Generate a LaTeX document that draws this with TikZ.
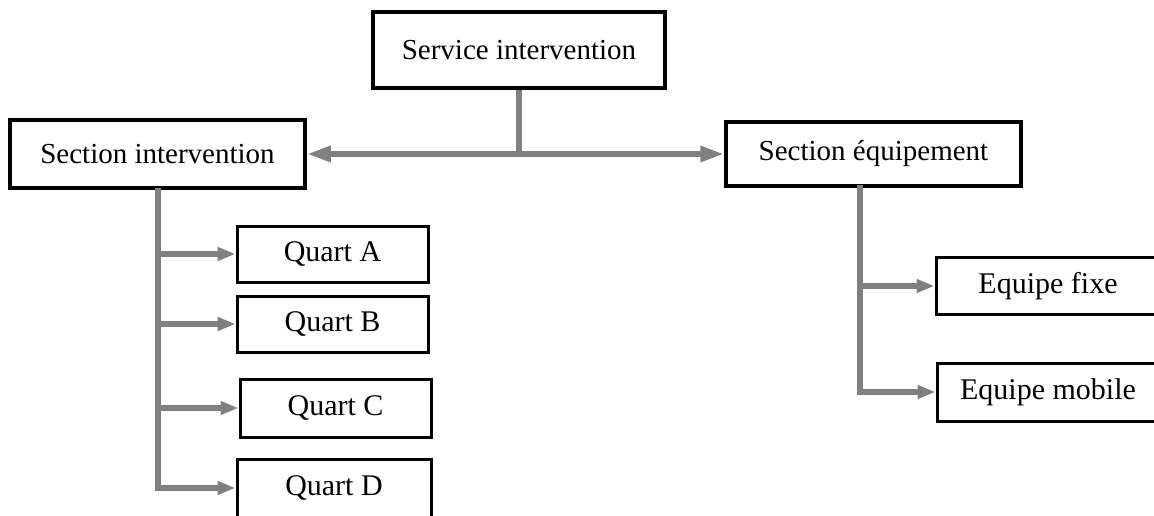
\documentclass[tikz,border=0pt]{standalone}
\usepackage{fontspec}
\setmainfont{Liberation Serif}
\usetikzlibrary{arrows.meta}
\definecolor{conngray}{RGB}{128,128,128}
\tikzset{
  topbox/.style={draw=black, line width=3.5pt, fill=white, inner sep=0pt, font=\fontsize{29}{34}\selectfont},
  subbox/.style={draw=black, line width=3pt, fill=white, inner sep=0pt, font=\fontsize{30}{35}\selectfont},
  conn/.style={draw=conngray, line width=6pt},
  bigarrow/.style={conn, -{Triangle[length=24pt, width=15pt]}},
  smallarrow/.style={conn, -{Triangle[length=18pt, width=13pt]}}
}
\begin{document}
\begin{tikzpicture}[x=1pt, y=-1pt]
\clip (0,0) rectangle (1154,516);
\useasboundingbox (0,0) rectangle (1154,516);
\fill[white] (0,0) rectangle (1154,516);

% nodes
\node[topbox, minimum width=292pt, minimum height=76pt] (svc) at (519,50) {Service intervention};
\node[topbox, minimum width=295pt, minimum height=68pt] (secI) at (157.5,154) {Section intervention};
\node[topbox, minimum width=295pt, minimum height=64pt] (secE) at (873.5,154) {Section équipement};

\node[subbox, minimum width=191pt, minimum height=56pt] (qA) at (332.5,254) {Quart A};
\node[subbox, minimum width=191pt, minimum height=56pt] (qB) at (332.5,324) {Quart B};
\node[subbox, minimum width=191pt, minimum height=58pt] (qC) at (335.5,408) {Quart C};
\node[subbox, minimum width=194pt, minimum height=58pt] (qD) at (334,488) {Quart D};

\node[subbox, minimum width=224pt, minimum height=57pt] (eF) at (1048,286) {Equipe fixe};
\node[subbox, minimum width=222pt, minimum height=58pt] (eM) at (1048,392) {Equipe mobile};

% top connectors
\coordinate (hub) at (svc.south |- secE.west);
\draw[conn] (svc.south) -- (hub);
\draw[bigarrow] (hub) -- (secI.east);
\draw[bigarrow] (hub) -- (secE.west);

% left trunk
\coordinate (lt) at (158,188);
\draw[conn] (lt) -- (lt |- qD.west);
\draw[smallarrow] ([xshift=-3pt]lt |- qA.west) -- (qA.west);
\draw[smallarrow] ([xshift=-3pt]lt |- qB.west) -- (qB.west);
\draw[smallarrow] ([xshift=-3pt]lt |- qC.west) -- (qC.west);
\draw[smallarrow] ([xshift=-3pt]lt |- qD.west) -- (qD.west);

% right trunk
\coordinate (rt) at (860,185);
\draw[conn] (rt) -- (rt |- eM.west);
\draw[smallarrow] ([xshift=-3pt]rt |- eF.west) -- (eF.west);
\draw[smallarrow] ([xshift=-3pt]rt |- eM.west) -- (eM.west);
\end{tikzpicture}
\end{document}
